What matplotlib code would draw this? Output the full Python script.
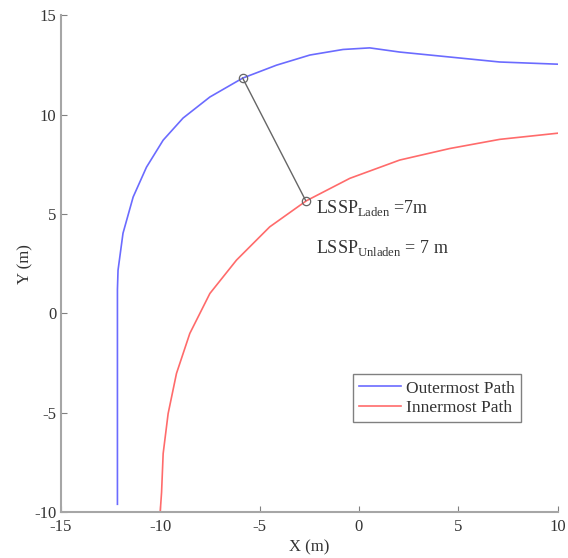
import matplotlib
matplotlib.use('Agg')
import matplotlib.pyplot as plt

# Outermost path (blue)
outer_x = [-12.15, -12.15, -12.12, -11.87, -11.36, -10.69, -9.85, -8.85,
           -7.5, -5.85, -4.15, -2.47, -0.8, 0.54, 2.05, 4.57, 7.08, 10.0]
outer_y = [-9.6, 1.2, 2.17, 4.03, 5.85, 7.35, 8.71, 9.82,
           10.88, 11.83, 12.48, 12.99, 13.27, 13.35, 13.14, 12.89, 12.64, 12.53]

# Innermost path (red)
inner_x = [-10.0, -9.93, -9.85, -9.6, -9.18, -8.51, -7.5, -6.16, -4.49,
           -2.65, -0.46, 2.05, 4.57, 7.08, 10.0]
inner_y = [-10.0, -9.0, -7.05, -5.04, -3.02, -1.01, 1.0, 2.68, 4.35,
           5.66, 6.79, 7.71, 8.29, 8.75, 9.06]

# LSSP measuring segment
lssp_x = [-5.85, -2.68]
lssp_y = [11.83, 5.67]

plt.rcParams['font.family'] = 'Liberation Serif'
plt.rcParams['mathtext.fontset'] = 'custom'
plt.rcParams['mathtext.rm'] = 'Liberation Serif'
plt.rcParams['axes.unicode_minus'] = False

fig = plt.figure(figsize=(5.68, 5.58), dpi=100)
ax = fig.add_axes([0.107, 0.082, 0.875, 0.891])

ax.plot(outer_x, outer_y, color=(0.42, 0.42, 1.0), lw=1.2, label='Outermost Path')
ax.plot(inner_x, inner_y, color=(1.0, 0.42, 0.42), lw=1.2, label='Innermost Path')
ax.plot(lssp_x, lssp_y, color='0.4', lw=1.0, marker='o', ms=6,
        mfc='none', mec='0.4', mew=0.9)

ax.text(-2.15, 5.3, r'LSSP$_{\mathrm{Laden}}$ =7m', fontsize=13, color='0.2',
        va='center')
ax.text(-2.15, 3.3, r'LSSP$_{\mathrm{Unladen}}$ = 7 m', fontsize=13, color='0.2',
        va='center')

# Format plot.
ax.set_xlim(-15, 10)
ax.set_ylim(-10, 15)
ax.set_xticks([-15, -10, -5, 0, 5, 10])
ax.set_yticks([-10, -5, 0, 5, 10, 15])
ax.set_xlabel('X (m)', fontsize=12, color='0.2', labelpad=3)
ax.set_ylabel('Y (m)', fontsize=12, color='0.2', labelpad=1)
ax.spines['top'].set_visible(False)
ax.spines['right'].set_visible(False)
for s in ['left', 'bottom']:
    ax.spines[s].set_color('0.65')
    ax.spines[s].set_linewidth(1.5)
ax.tick_params(axis='both', direction='in', length=4, color='0.5',
               labelsize=12, labelcolor='0.2', pad=3)
ax.tick_params(axis='x', pad=5)

leg = ax.legend(loc='lower left', bbox_to_anchor=(0.588, 0.181), fontsize=12.5,
                fancybox=False, framealpha=1, edgecolor='0.5',
                handlelength=2.4, borderpad=0.35, labelspacing=0.2,
                handletextpad=0.3, borderaxespad=0)
leg.get_frame().set_linewidth(1.0)
for t in leg.get_texts():
    t.set_color('0.2')

fig.savefig('out.png', dpi=100)
